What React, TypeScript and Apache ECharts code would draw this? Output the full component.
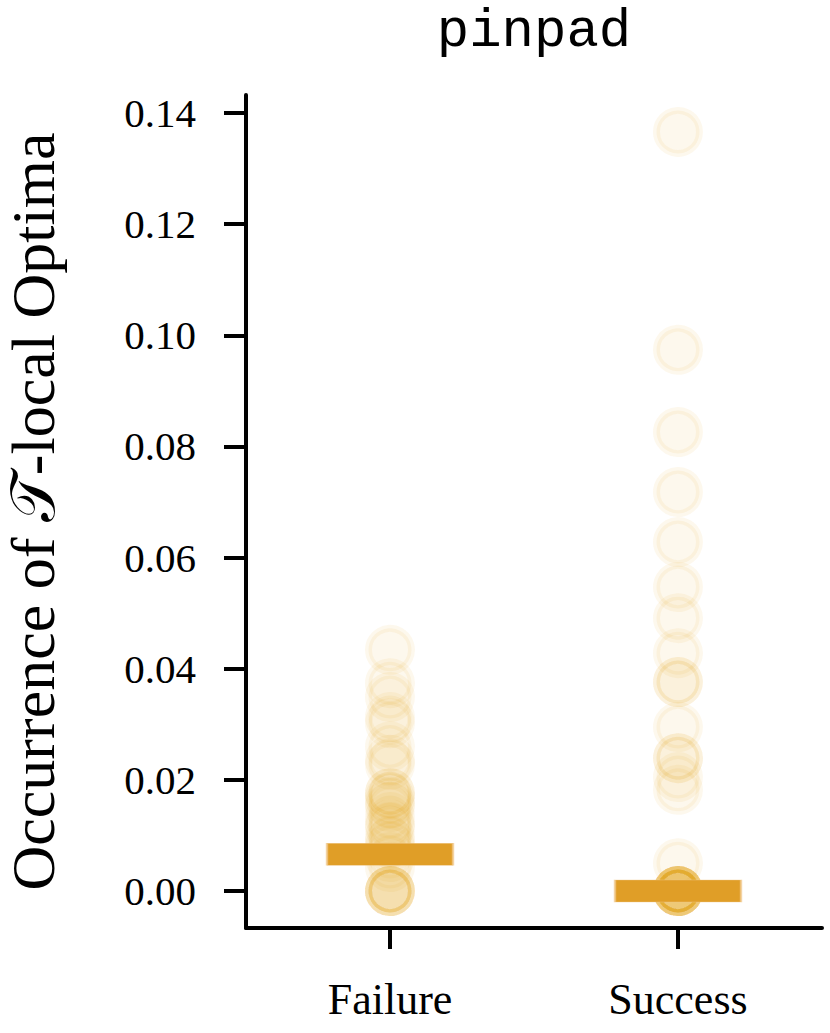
import React, { useEffect, useRef } from "react";
import * as echarts from "echarts";

const categories = ["Failure", "Success"];
const failureValues = [
  0.0434, 0.0374, 0.0349, 0.0313, 0.0302, 0.026, 0.0236, 0.0227, 0.0176, 0.0176,
  0.0167, 0.0158, 0.0151, 0.0133, 0.012, 0.0115, 0.0097, 0.0088, 0.0079, 0.0061,
  0.0043, 0, 0, 0, 0, 0,
];
const successValues = [
  0.1366, 0.0974, 0.0826, 0.0718, 0.0628, 0.0547, 0.0491, 0.0428, 0.0376, 0.0376,
  0.0295, 0.0239, 0.0239, 0.0205, 0.0182, 0.005, 0, 0, 0, 0, 0, 0, 0, 0, 0, 0,
];
const medianValues = [0.0066, 0.0];
const yTicks = [0, 0.02, 0.04, 0.06, 0.08, 0.1, 0.12, 0.14];
const yMin = -0.00666;
const yMax = 0.14324;
const titleText = "pinpad";
const yAxisTitle = "Occurrence of 𝒯-local Optima";

export default function App() {
  const ref = useRef<HTMLDivElement>(null);
  useEffect(() => {
    document.body.style.margin = "0";
    if (!ref.current) return;
    const chart = echarts.init(ref.current, null, { renderer: "svg" });
    const pointData: [string, number][] = [];
    failureValues.forEach((v) => pointData.push([categories[0], v]));
    successValues.forEach((v) => pointData.push([categories[1], v]));
    const medianData = categories.map((c, i) => [c, medianValues[i]]);
    const serif = "'Liberation Serif', 'Times New Roman', serif";
    chart.setOption({
      animation: false,
      backgroundColor: "#ffffff",
      title: {
        text: titleText,
        left: 534,
        textAlign: "center",
        top: 4,
        padding: 0,
        textStyle: {
          fontFamily: "'Liberation Mono', 'DejaVu Sans Mono', monospace",
          fontWeight: "normal",
          fontSize: 54,
          color: "#000",
        },
      },
      grid: {
        left: 246,
        right: 8,
        top: 95,
        bottom: 105,
        containLabel: false,
        outerBoundsMode: "none",
      },
      xAxis: {
        type: "category",
        data: categories,
        boundaryGap: true,
        axisLine: { show: true, onZero: false, lineStyle: { color: "#000", width: 4 } },
        axisTick: { show: true, alignWithLabel: true, length: 21, lineStyle: { color: "#000", width: 4 } },
        axisLabel: { margin: 49, fontFamily: serif, fontSize: 44, color: "#000" },
        splitLine: { show: false },
      },
      yAxis: {
        type: "value",
        min: yMin,
        max: yMax,
        name: yAxisTitle,
        nameLocation: "middle",
        nameGap: 186,
        nameTextStyle: { fontFamily: serif, fontSize: 62, lineHeight: 54, color: "#000" },
        axisLine: { show: true, onZero: false, lineStyle: { color: "#000", width: 4 } },
        axisTick: {
          show: true,
          length: 22,
          customValues: yTicks,
          lineStyle: { color: "#000", width: 4 },
        },
        axisLabel: {
          customValues: yTicks,
          margin: 50,
          fontFamily: serif,
          fontSize: 41,
          color: "#000",
          formatter: (v: number) => v.toFixed(2),
        },
        splitLine: { show: false },
      },
      series: [
        {
          type: "scatter",
          data: pointData,
          symbol: "circle",
          symbolSize: 43,
          itemStyle: {
            color: "rgba(230,159,0,0.07)",
            borderColor: "rgba(230,159,0,0.07)",
            borderWidth: 7,
            opacity: 1,
          },
          z: 2,
        },
        {
          type: "scatter",
          data: medianData,
          symbol: "rect",
          symbolSize: [126, 22],
          itemStyle: {
            color: "#e09e27",
            borderColor: "rgba(240,200,140,0.8)",
            borderWidth: 1,
            opacity: 1,
          },
          z: 3,
        },
      ],
    });
    return () => chart.dispose();
  }, []);
  return <div ref={ref} style={{ width: 830, height: 1033 }} />;
}
